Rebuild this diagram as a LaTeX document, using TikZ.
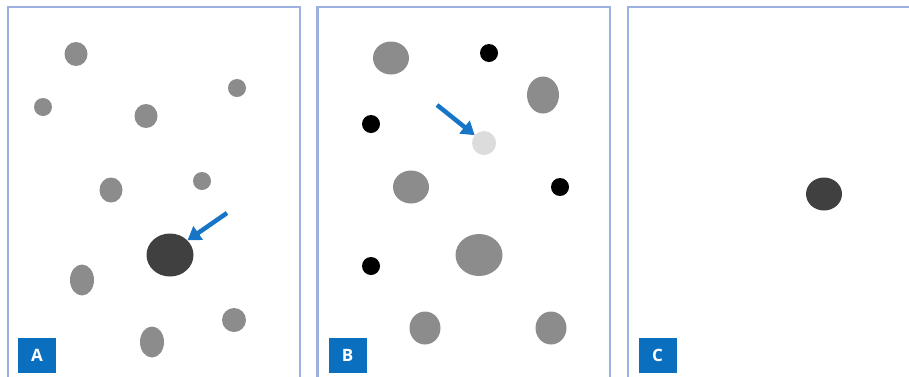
\documentclass[tikz,border=0pt]{standalone}
\usepackage{fontspec}
\setsansfont{Open Sans}
\usetikzlibrary{arrows.meta,shapes.geometric}
\definecolor{frameblue}{HTML}{9DB0E2}
\definecolor{labelblue}{HTML}{0B6FBF}
\definecolor{arrowblue}{HTML}{1675C6}
\definecolor{midgray}{HTML}{8C8C8C}
\definecolor{darkdot}{HTML}{404040}
\definecolor{lightdot}{HTML}{DCDCDC}
\begin{document}
\begin{tikzpicture}[x=1pt,y=-1pt,
  panel/.style={draw=frameblue,line width=2.4pt},
  graydot/.style={fill=midgray},
  darkblob/.style={fill=darkdot},
  blackdot/.style={fill=black},
  lightblob/.style={fill=lightdot},
  tag/.style={fill=labelblue,text=white,minimum width=38pt,minimum height=35pt,inner sep=0pt,font=\sffamily\bfseries\fontsize{17}{17}\selectfont},
  pointer/.style={draw=arrowblue,line width=4.5pt,-{Triangle[length=13pt,width=16pt]}}]
\useasboundingbox (0,0) rectangle (909,376);
\clip (0,0) rectangle (909,376);
% panels
\draw[panel] (8,7) rectangle (300,400);
\draw[panel] (317.5,7) rectangle (610,400);
\draw[panel] (628,7) rectangle (940,400);
% panel A
\fill[graydot] (76,54) ellipse [x radius=11.5,y radius=12];
\fill[graydot] (43,107) circle [radius=9];
\fill[graydot] (146,116) ellipse [x radius=11.5,y radius=12];
\fill[graydot] (237,88) circle [radius=9];
\fill[graydot] (111,190) ellipse [x radius=11.5,y radius=12.5];
\fill[graydot] (202,181) circle [radius=9];
\fill[graydot] (82,280) ellipse [x radius=12,y radius=15.5];
\fill[graydot] (234,320) ellipse [x radius=12,y radius=12];
\fill[graydot] (152,342) ellipse [x radius=12,y radius=15.5];
\node[darkblob,ellipse,minimum width=47pt,minimum height=43pt,inner sep=0pt] (ta) at (170,255) {};
\coordinate (sa) at (227,213);
\draw[pointer] (sa) -- (ta.40);
\node[tag] (la) at (37,355) {A};
% panel B
\fill[graydot] (391,58) ellipse [x radius=18,y radius=16.5];
\fill[blackdot] (489,53) circle [radius=9];
\fill[graydot] (543,95) ellipse [x radius=16,y radius=18.5];
\fill[blackdot] (371,124) circle [radius=9];
\fill[graydot] (411,187) ellipse [x radius=18,y radius=16.5];
\fill[blackdot] (560,187) circle [radius=9];
\fill[blackdot] (371,266) circle [radius=9];
\fill[graydot] (479,255) ellipse [x radius=23.5,y radius=21];
\fill[graydot] (425,328) ellipse [x radius=15.5,y radius=16.5];
\fill[graydot] (551,328) ellipse [x radius=15.5,y radius=16.5];
\node[lightblob,circle,minimum size=24pt,inner sep=0pt] (tb) at (484,143) {};
\coordinate (sb) at (437,105);
\draw[pointer] (sb) -- (tb.140);
\node[tag] (lb) at (347.5,355) {B};
% panel C
\fill[darkdot] (824,194) ellipse [x radius=18,y radius=16.5];
\node[tag] (lc) at (657.5,355) {C};
\end{tikzpicture}
\end{document}
